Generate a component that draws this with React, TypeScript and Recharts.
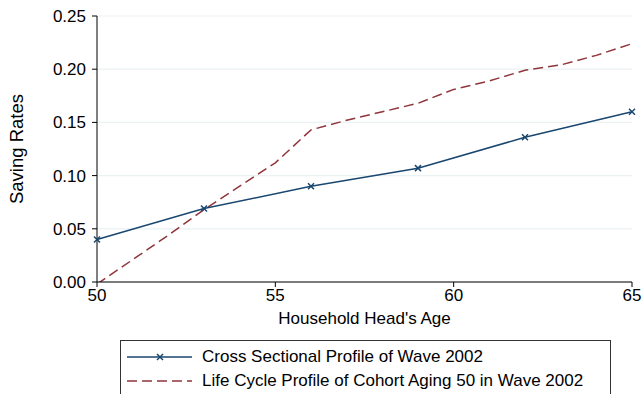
import React from 'react';
import { LineChart, Line, XAxis, YAxis, CartesianGrid, Label } from 'recharts';

// cross sectional profile, wave 2002 (one point every 3 years)
const crossAges = [50, 53, 56, 59, 62, 65];
const crossRates = [0.040, 0.069, 0.090, 0.107, 0.136, 0.160];

// life cycle profile of the cohort aging 50 in 2002
const cohortAges = [50, 51, 52, 53, 54, 55, 56, 57, 58, 59, 60, 61, 62, 63, 64, 65];
const cohortRates = [
  -0.002, 0.021, 0.044, 0.068, 0.090, 0.112, 0.143, 0.152,
  0.160, 0.168, 0.181, 0.189, 0.199, 0.204, 0.213, 0.224,
];

const xTicks = [50, 55, 60, 65];
const yTicks = [0, 0.05, 0.1, 0.15, 0.2, 0.25];

const seriesNames = [
  'Cross Sectional Profile of Wave 2002',
  'Life Cycle Profile of Cohort Aging 50 in Wave 2002',
];

const BLUE = '#1a476f';
const RED = '#90353b';
const FONT = '"Liberation Sans", Arial, sans-serif';
const FS = 17;

const crossData = crossAges.map((age, i) => ({ age, rate: crossRates[i] }));
const cohortData = cohortAges.map((age, i) => ({ age, rate: cohortRates[i] }));

const XMark = (props: any) => {
  const { cx, cy } = props;
  if (cx == null || cy == null) return null;
  const s = 3;
  return (
    <g stroke={BLUE} strokeWidth={1.5}>
      <line x1={cx - s} y1={cy - s} x2={cx + s} y2={cy + s} />
      <line x1={cx - s} y1={cy + s} x2={cx + s} y2={cy - s} />
    </g>
  );
};

const YTitle = (props: any) => {
  const { viewBox } = props;
  const x = 16;
  const y = viewBox.y + viewBox.height / 2;
  return (
    <text
      x={x}
      y={y}
      transform={`rotate(-90, ${x}, ${y})`}
      textAnchor="middle"
      dominantBaseline="central"
      fontSize={18.5}
      fontFamily={FONT}
      fill="#000"
    >
      Saving Rates
    </text>
  );
};

const LegendBox = () => (
  <div
    style={{
      position: 'absolute',
      left: 120,
      top: 340,
      width: 491,
      height: 70,
      border: '1px solid #333',
      boxSizing: 'border-box',
      background: '#fff',
      fontFamily: FONT,
      fontSize: FS,
      whiteSpace: 'nowrap',
    }}
  >
    {seriesNames.map((name, i) => (
      <div
        key={name}
        style={{ position: 'absolute', left: 0, top: 5 + i * 24, height: 22, display: 'flex', alignItems: 'center' }}
      >
        <svg width={81} height={22} style={{ flex: 'none' }}>
          {i === 0 ? (
            <>
              <line x1={6} y1={11} x2={71} y2={11} stroke={BLUE} strokeWidth={1.5} />
              <XMark cx={39} cy={11} />
            </>
          ) : (
            <line x1={6} y1={11} x2={71} y2={11} stroke={RED} strokeWidth={1.5} strokeDasharray="10 5" />
          )}
        </svg>
        <span>{name}</span>
      </div>
    ))}
  </div>
);

export default function App() {
  return (
    <div style={{ position: 'absolute', left: 0, top: 0, width: 643, height: 394, background: '#fff', overflow: 'hidden' }}>
      <LineChart width={643} height={394} margin={{ top: 16, right: 11, bottom: 0, left: 0 }}>
        <CartesianGrid horizontal vertical={false} stroke="#eaf2f3" strokeWidth={1.2} />
        <XAxis
          type="number"
          dataKey="age"
          domain={[50, 65]}
          ticks={xTicks}
          allowDuplicatedCategory={false}
          height={112}
          tickSize={5}
          tickMargin={2}
          stroke="#000"
          tick={{ fill: '#000', fontSize: FS, fontFamily: FONT }}
        >
          <Label
            value="Household Head's Age"
            position="insideTop"
            offset={30}
            style={{ fill: '#000', fontSize: FS, fontFamily: FONT }}
          />
        </XAxis>
        <YAxis
          type="number"
          domain={[0, 0.25]}
          ticks={yTicks}
          allowDataOverflow
          width={97}
          tickSize={5}
          tickMargin={6}
          stroke="#000"
          tickFormatter={(v: number) => v.toFixed(2)}
          tick={{ fill: '#000', fontSize: FS, fontFamily: FONT }}
        >
          <Label content={<YTitle />} />
        </YAxis>
        <Line
          data={cohortData}
          dataKey="rate"
          type="linear"
          stroke={RED}
          strokeWidth={1.5}
          strokeDasharray="10 5"
          dot={false}
          activeDot={false}
          isAnimationActive={false}
        />
        <Line
          data={crossData}
          dataKey="rate"
          type="linear"
          stroke={BLUE}
          strokeWidth={1.5}
          dot={<XMark />}
          activeDot={false}
          isAnimationActive={false}
        />
      </LineChart>
      <LegendBox />
    </div>
  );
}
